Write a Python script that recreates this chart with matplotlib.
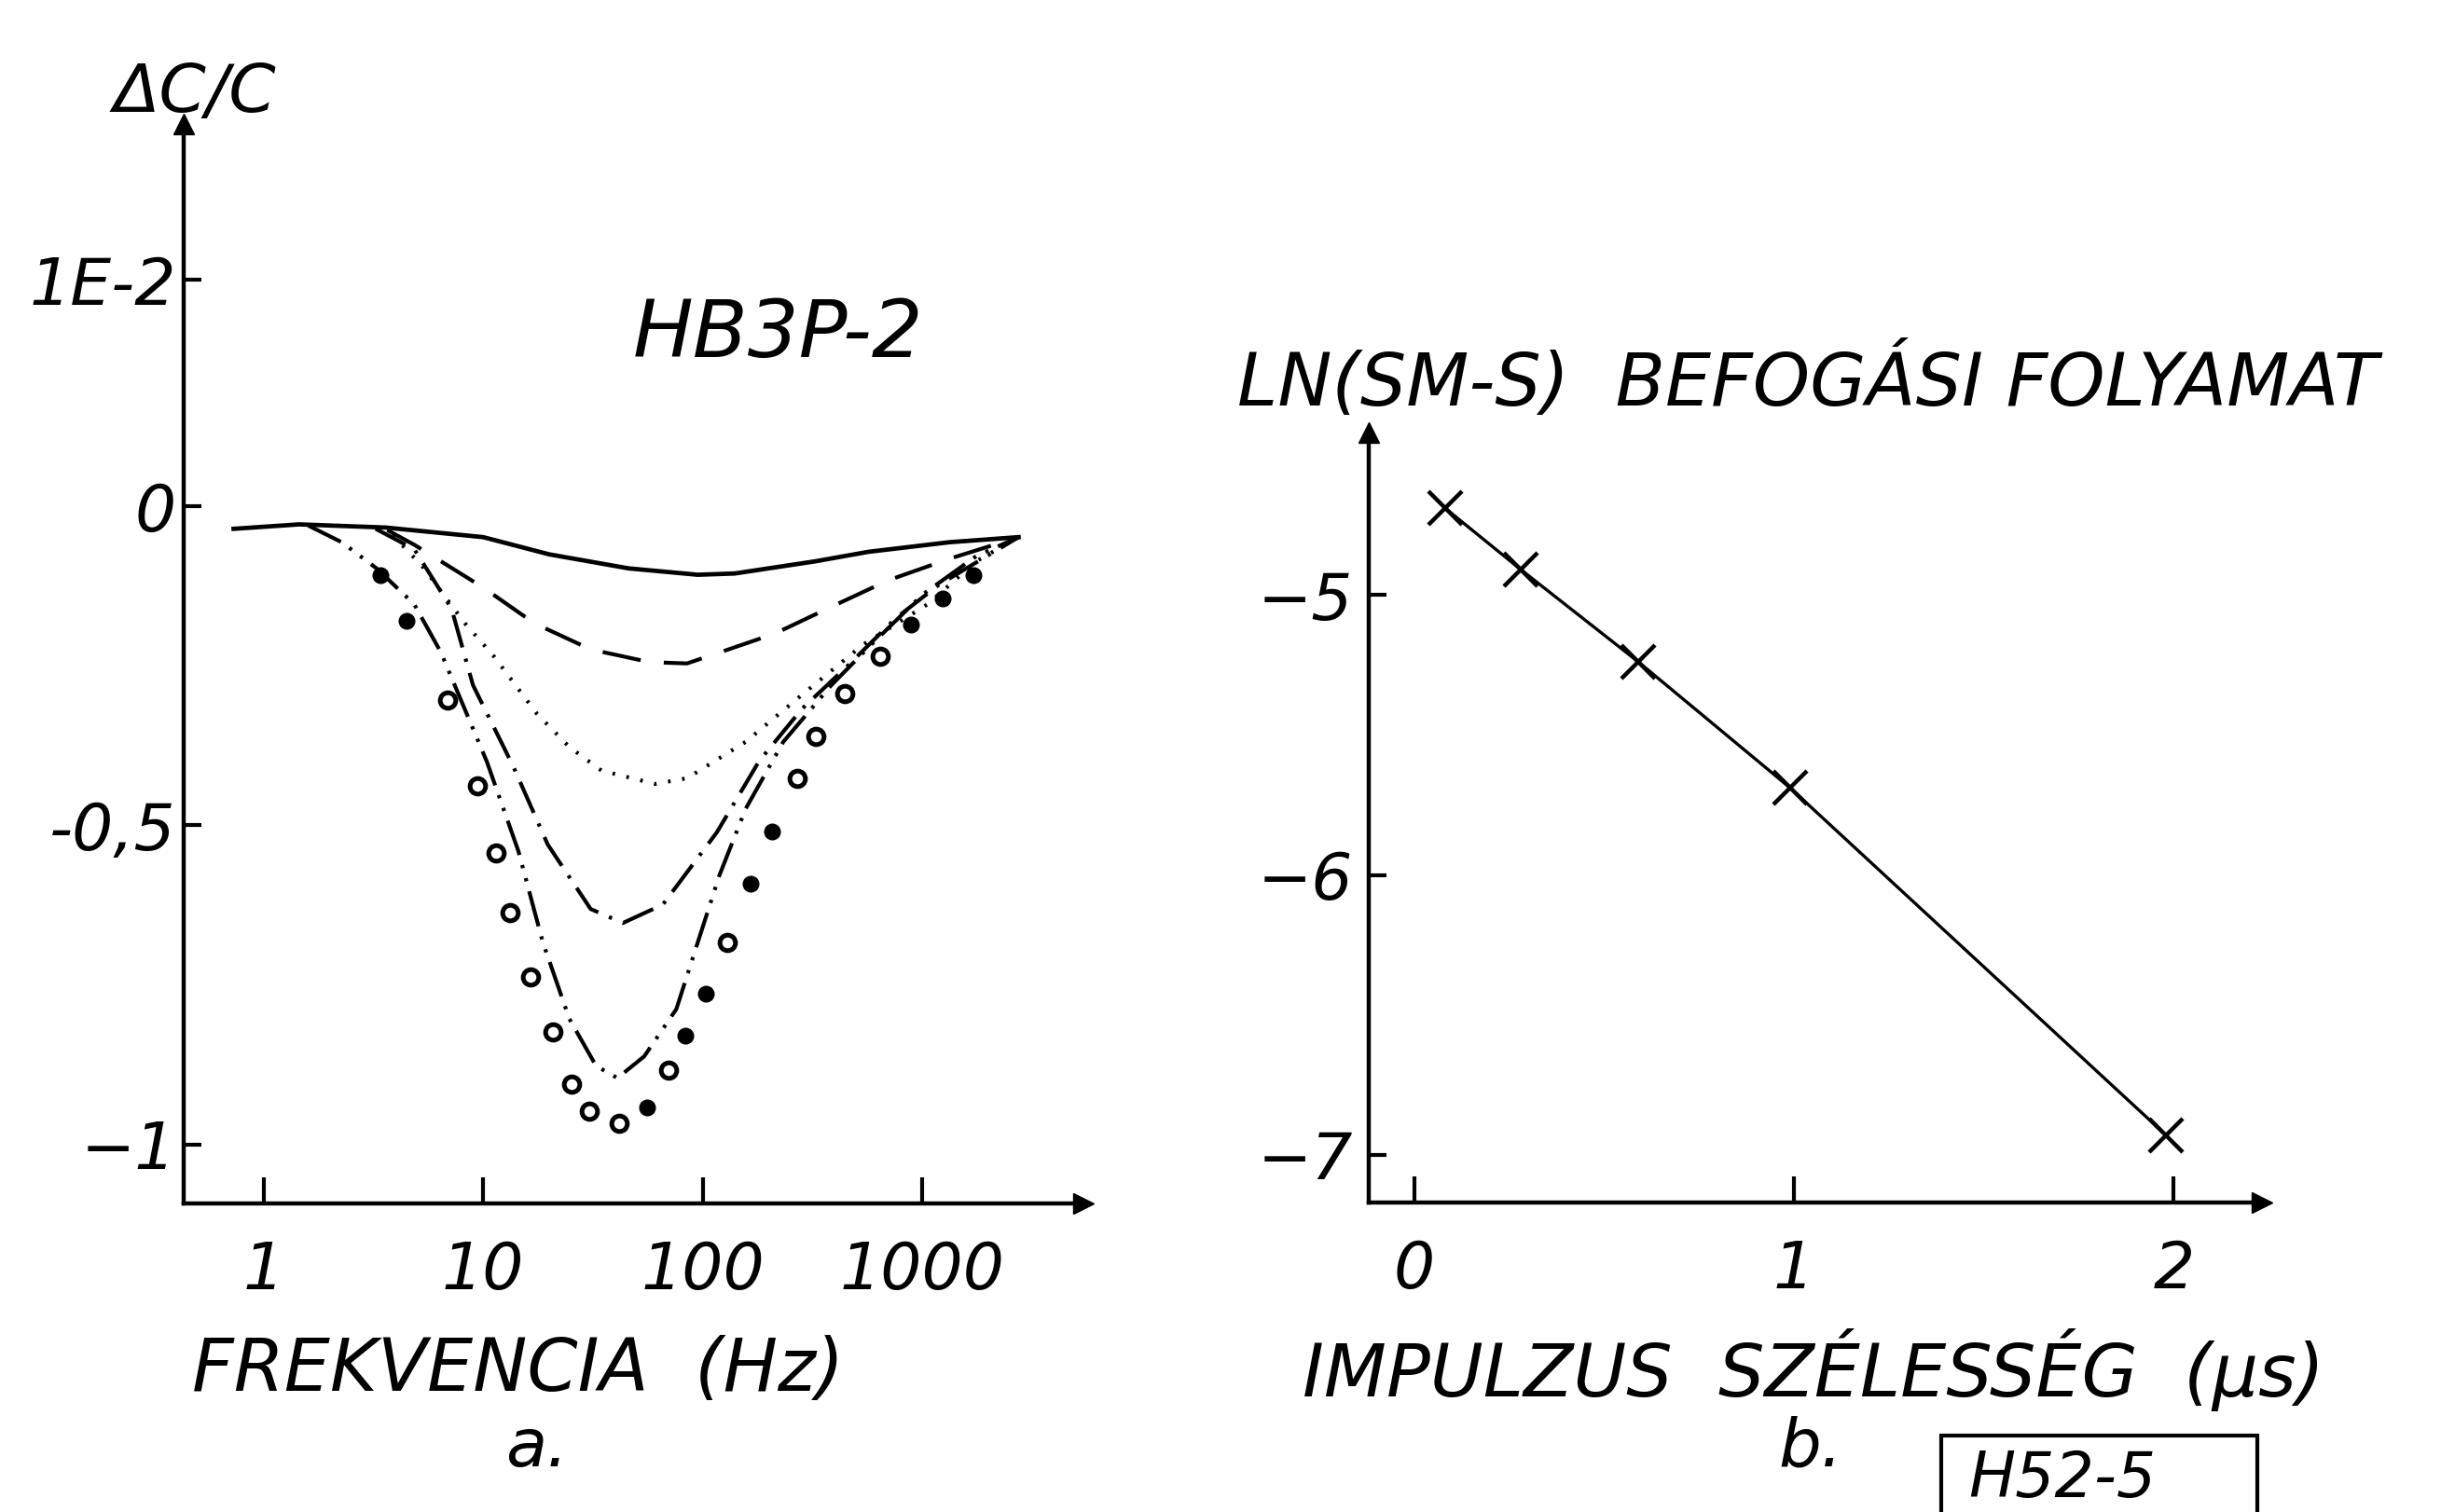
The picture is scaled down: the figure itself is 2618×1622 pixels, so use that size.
import matplotlib
matplotlib.use("Agg")
import matplotlib.pyplot as plt
from matplotlib.patches import Rectangle

# ---------------- panel a data (frequency in Hz, dC/C) ----------------
solid_f = [0.73, 1.45, 3.6, 10, 20, 46, 95, 140, 325, 570, 1330, 2750]
solid_v = [-0.035, -0.028, -0.033, -0.048, -0.075, -0.097, -0.107, -0.105, -0.086, -0.071, -0.056, -0.048]

dashed_f = [3.66, 4.86, 10, 17.1, 30.9, 57.3, 84.9, 119, 214, 366, 697, 1330, 2750]
dashed_v = [-0.037, -0.060, -0.127, -0.183, -0.224, -0.244, -0.246, -0.229, -0.199, -0.161, -0.116, -0.082, -0.048]

dotted_f = [3.87, 5.27, 8.26, 11.2, 17.6, 24.7, 34.6, 60.7, 84.9, 157, 284, 541, 1062, 1762, 2750]
dotted_v = [-0.045, -0.093, -0.183, -0.235, -0.325, -0.377, -0.414, -0.435, -0.426, -0.369, -0.295, -0.216, -0.153, -0.086, -0.048]

dashdot_f = [3.24, 4.86, 7.18, 8.99, 13.7, 19.7, 30.9, 43.3, 65.9, 116, 181, 284, 457, 759, 1189, 2750]
dashdot_v = [-0.035, -0.067, -0.160, -0.280, -0.407, -0.530, -0.631, -0.653, -0.624, -0.511, -0.399, -0.317, -0.250, -0.175, -0.123, -0.048]

deep_f = [1.6, 2.27, 3.27, 4.85, 6.41, 10.4, 14.5, 18.7, 24.7, 32.7, 40.9, 54.2, 75.9, 95.1, 119, 157, 233, 386, 573, 1005, 1762, 2750]
deep_v = [-0.030, -0.056, -0.097, -0.153, -0.228, -0.400, -0.541, -0.683, -0.803, -0.877, -0.896, -0.862, -0.788, -0.683, -0.579, -0.474, -0.369, -0.280, -0.220, -0.138, -0.078, -0.048]

open_f = [6.87, 9.4, 11.4, 13.3, 16.4, 20.7, 25.4, 30.5, 41.6, 69.8, 130, 269, 327, 445, 641]
open_v = [-0.304, -0.438, -0.543, -0.637, -0.738, -0.824, -0.905, -0.948, -0.967, -0.883, -0.683, -0.426, -0.361, -0.293, -0.235]

filled_f = [3.42, 4.46, 55.7, 83.6, 103, 165, 208, 887, 1236, 1710]
filled_v = [-0.108, -0.179, -0.942, -0.829, -0.764, -0.592, -0.509, -0.185, -0.144, -0.107]

a_xticks = [1, 10, 100, 1000]
a_xticklabels = ["1", "10", "100", "1000"]
a_yticks = [0.355, 0, -0.5, -1]
a_yticklabels = ["1E-2", "0", "-0,5", "\u22121"]

# ---------------- panel b data ----------------
width_us = [0.08, 0.28, 0.59, 0.99, 1.98]
ln_sm_s = [-4.69, -4.91, -5.24, -5.69, -6.93]
b_xticks = [0, 1, 2]
b_xticklabels = ["0", "1", "2"]
b_yticks = [-5, -6, -7]
b_yticklabels = ["\u22125", "\u22126", "\u22127"]

plt.rcParams["font.family"] = ["DejaVu Sans"]
plt.rcParams["font.style"] = "italic"
plt.rcParams["lines.scale_dashes"] = False

W, H = 1568.0, 971.0
fig = plt.figure(figsize=(26.18, 16.22), dpi=100)

def fx(px):
    return px / W

def fy(py):
    return 1 - py / H

TICK_FS = 50
LABEL_FS = 52
K = "black"

def style_axes(ax):
    for s in ("top", "right"):
        ax.spines[s].set_visible(False)
    for s in ("left", "bottom"):
        ax.spines[s].set_linewidth(3.2)
        ax.spines[s].set_color(K)
    ax.plot(1, 0, marker=">", color=K, ms=16, transform=ax.transAxes, clip_on=False)
    ax.plot(0, 1, marker="^", color=K, ms=16, transform=ax.transAxes, clip_on=False)
    ax.set_facecolor("none")

# ---------------- panel a ----------------
axa = fig.add_axes([fx(118), fy(773), fx(695.7) - fx(118), fy(79.5) - fy(773)])
style_axes(axa)
axa.set_xscale("log")
axa.set_xlim(10 ** -0.364, 10 ** 3.733)
axa.set_ylim(-1.093, 0.60)
axa.minorticks_off()

axa.plot(solid_f, solid_v, color=K, lw=3.4, ls="-")
axa.plot(dashed_f, dashed_v, color=K, lw=3.0, ls=(0, (30, 18)))
axa.plot(dotted_f, dotted_v, color=K, lw=3.0, ls=(0, (2, 9)))
axa.plot(dashdot_f, dashdot_v, color=K, lw=3.0, ls=(0, (26, 9, 2.5, 9)))
axa.plot(deep_f, deep_v, color=K, lw=3.0, ls=(0, (28, 8, 2.5, 8, 2.5, 8)))
axa.plot(open_f, open_v, ls="none", marker="o", ms=12, mfc="white", mec=K, mew=3.6)
axa.plot(filled_f, filled_v, ls="none", marker="o", ms=12, mfc=K, mec=K)

axa.set_xticks(a_xticks)
axa.set_xticklabels(a_xticklabels)
axa.set_yticks(a_yticks)
axa.set_yticklabels(a_yticklabels)
axa.tick_params(axis="x", direction="in", length=20, width=3, pad=28, labelsize=TICK_FS)
axa.tick_params(axis="y", direction="in", length=14, width=3, pad=6, labelsize=TICK_FS)

fig.text(fx(125), fy(60), "\u0394C/C", fontsize=LABEL_FS, ha="center", va="center")
fig.text(fx(500), fy(215), "HB3P-2", fontsize=LABEL_FS + 10, ha="center", va="center")
fig.text(fx(333), fy(880), "FREKVENCIA  (Hz)", fontsize=LABEL_FS + 4, ha="center", va="center")
fig.text(fx(345), fy(930), "a.", fontsize=LABEL_FS, ha="center", va="center")

# ---------------- panel b ----------------
axb = fig.add_axes([fx(879.3), fy(772.3), fx(1453.2) - fx(879.3), fy(277.6) - fy(772.3)])
style_axes(axb)
axb.set_xlim(-0.12, 2.233)
axb.set_ylim(-7.17, -4.42)
axb.plot(width_us, ln_sm_s, color=K, lw=2.4, marker="x", ms=26, mew=3.2)
axb.set_xticks(b_xticks)
axb.set_xticklabels(b_xticklabels)
axb.set_yticks(b_yticks)
axb.set_yticklabels(b_yticklabels)
axb.tick_params(axis="x", direction="in", length=20, width=3, pad=28, labelsize=TICK_FS)
axb.tick_params(axis="y", direction="in", length=14, width=3, pad=12, labelsize=TICK_FS)

fig.text(fx(795), fy(245), "LN(SM-S)  BEFOG\u00c1SI FOLYAMAT", fontsize=LABEL_FS + 4, ha="left", va="center")
fig.text(fx(1165), fy(880), "IMPULZUS  SZ\u00c9LESS\u00c9G  (\u03bcs)", fontsize=LABEL_FS + 4, ha="center", va="center")
fig.text(fx(1163), fy(930), "b.", fontsize=LABEL_FS, ha="center", va="center")

fig.patches.append(Rectangle((fx(1247), fy(990)), fx(1450) - fx(1247), fy(922) - fy(990),
                             transform=fig.transFigure, fill=False, lw=3, ec=K))
fig.text(fx(1325), fy(950), "H52-5", fontsize=LABEL_FS - 4, ha="center", va="center")

fig.savefig("out.png", dpi=100, facecolor="white")
